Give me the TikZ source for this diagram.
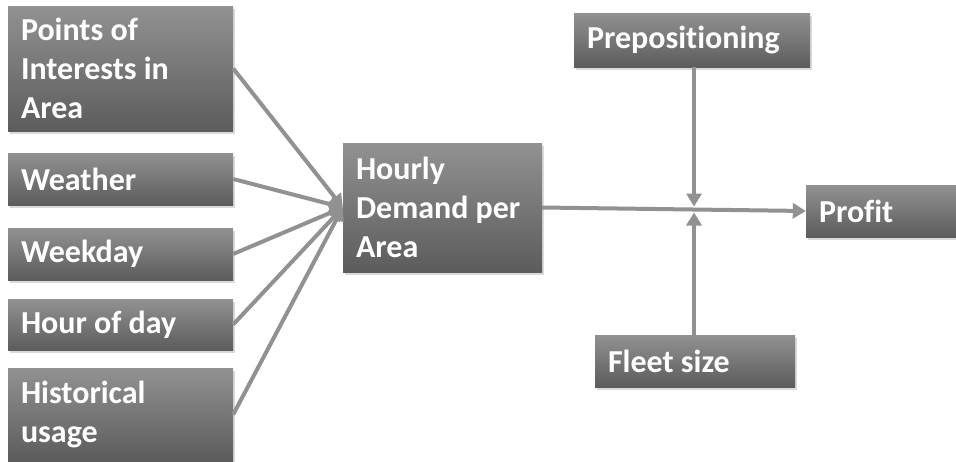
\documentclass[tikz,border=0pt]{standalone}
\usepackage{fontspec}
\setmainfont{Carlito}[Ligatures=CommonOff]
\usetikzlibrary{arrows.meta,shadows}

\begin{document}
\begin{tikzpicture}[x=1pt,y=-1pt,
	kasten/.style 2 args={rectangle,text width=#1,minimum height=#2,inner xsep=13pt,inner ysep=0pt,align=flush left,top color=black!43,bottom color=black!64,text=white,font=\fontsize{32}{39}\selectfont\bfseries,drop shadow={shadow xshift=1.5pt,shadow yshift=-2.5pt,opacity=.3}},
	pfeil/.style={draw=black!43,line width=4pt,-{Triangle[length=13pt,width=15pt]}}]
	\useasboundingbox (0,0) rectangle (956,461);
	\def\xLinks{120.5}
	\node[kasten={199pt}{125pt}] (poi) at (\xLinks,68.5) {Points of\\Interests in\\Area};
	\node[kasten={199pt}{52pt}] (weather) at (\xLinks,179) {Weather};
	\node[kasten={199pt}{52pt}] (weekday) at (\xLinks,254) {Weekday};
	\node[kasten={199pt}{51pt}] (hour) at (\xLinks,324.5) {Hour of day};
	\node[kasten={199pt}{93pt}] (hist) at (\xLinks,414.5) {Historical\\usage};
	%
	\node[kasten={173pt}{129pt}] (demand) at (442.5,207.5) {Hourly\\Demand per\\Area};
	\node[kasten={210pt}{54pt}] (prep) at (692,40) {Prepositioning};
	\node[kasten={124pt}{52pt}] (profit) at (881,211) {Profit};
	\node[kasten={174pt}{52pt}] (fleet) at (695,361) {Fleet size};
	%
	\foreach \n in {poi,weather,weekday,hour,hist}
		\draw[pfeil] (\n.east) -- (demand.west);
	\draw[pfeil] (demand.east) -- (profit.west);
	\path (demand.east) -- (profit.west) coordinate[pos=0.576] (kreuz);
	\draw[pfeil] (kreuz |- prep.south) -- ([yshift=3pt]kreuz);
	\draw[pfeil] (kreuz |- fleet.north) -- ([yshift=-3pt]kreuz);
	%
\end{tikzpicture}
\end{document}
